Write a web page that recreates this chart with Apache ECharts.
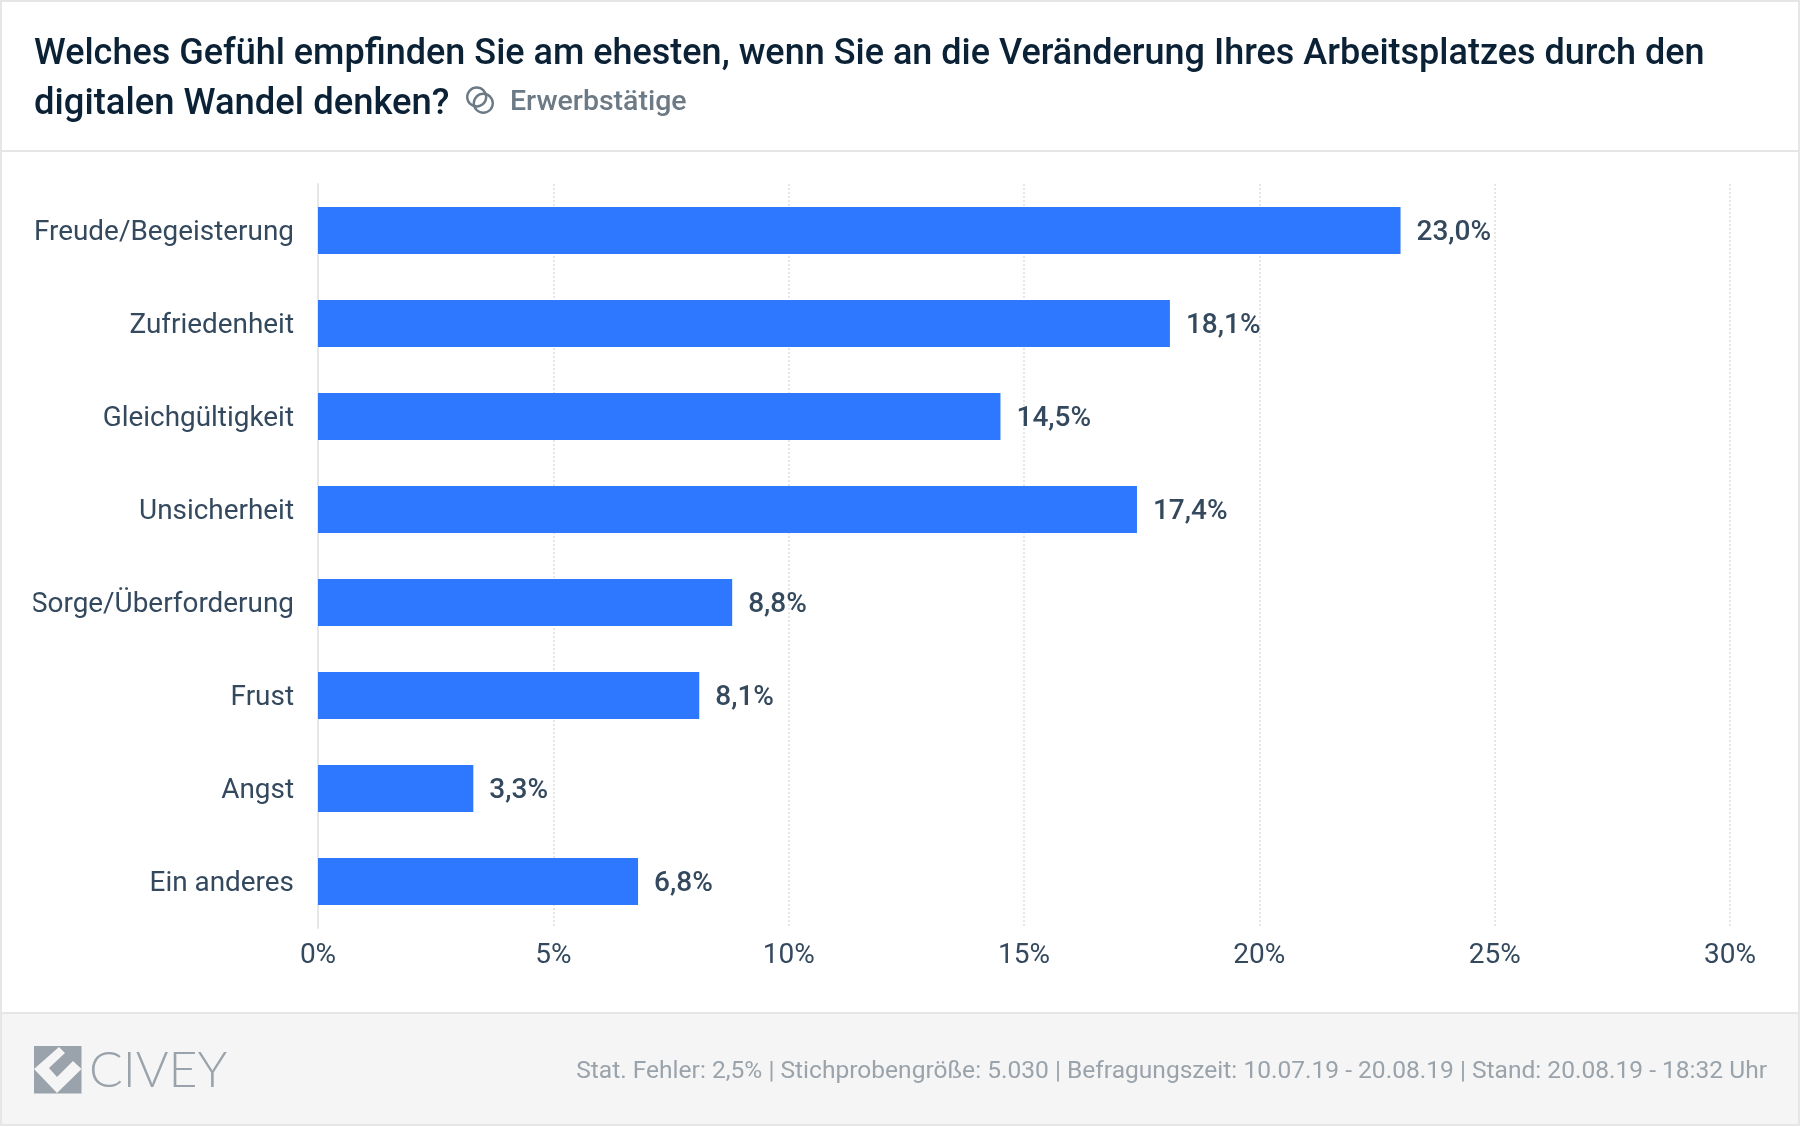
<!DOCTYPE html>
<html>
<head>
<meta charset="utf-8">
<title>Civey</title>
<script src="https://cdn.jsdelivr.net/npm/echarts@6/dist/echarts.min.js"></script>
<style>
  html, body { margin: 0; padding: 0; background: #fff; }
  #chart { width: 1800px; height: 1126px; }
</style>
</head>
<body>
<div id="chart"></div>
<script>
// Chart data
var categories = ['Freude/Begeisterung', 'Zufriedenheit', 'Gleichgültigkeit', 'Unsicherheit', 'Sorge/Überforderung', 'Frust', 'Angst', 'Ein anderes'];
var shares = [23.0, 18.1, 14.5, 17.4, 8.8, 8.1, 3.3, 6.8];
var xTicks = [0, 5, 10, 15, 20, 25, 30];

var titleLines = ['Welches Gefühl empfinden Sie am ehesten, wenn Sie an die Veränderung Ihres Arbeitsplatzes durch den', 'digitalen Wandel denken?'];
var groupLabel = 'Erwerbstätige';
var footerNote = 'Stat. Fehler: 2,5% | Stichprobengröße: 5.030 | Befragungszeit: 10.07.19 - 20.08.19 | Stand: 20.08.19 - 18:32 Uhr';

var fontName = 'Roboto';
var lineColor = '#e6e6e6';

var myChart = echarts.init(document.getElementById('chart'));

var chartOptions = {
  animation: false,
  backgroundColor: '#fff',
  textStyle: { fontFamily: fontName },
  title: [
    {
      text: titleLines[0],
      left: 29,
      top: 32,
      textStyle: { fontFamily: fontName, fontSize: 36, fontWeight: 500, color: '#0b2135' }
    },
    {
      text: titleLines[1],
      left: 29,
      top: 82,
      textStyle: { fontFamily: fontName, fontSize: 36.4, fontWeight: 500, color: '#0b2135' }
    },
    {
      text: groupLabel,
      left: 505,
      top: 83,
      textStyle: { fontFamily: fontName, fontSize: 28.5, fontWeight: 500, color: '#6c7a85' }
    },
    {
      text: footerNote,
      right: 28,
      top: 1054,
      textStyle: { fontFamily: fontName, fontSize: 24.55, fontWeight: 400, color: '#9aa3ab' }
    }
  ],
  grid: { left: 318, right: 70, top: 184, bottom: 198 },
  xAxis: {
    type: 'value',
    min: 0,
    max: 30,
    interval: 5,
    axisLine: { show: false },
    axisTick: { show: false },
    axisLabel: {
      margin: 14,
      fontSize: 28,
      color: '#34495e',
      fontFamily: fontName,
      formatter: function(v) { return xTicks.indexOf(v) >= 0 ? v + '%' : ''; }
    },
    splitLine: { show: true, lineStyle: { color: lineColor, width: 2, type: 'dotted' } }
  },
  yAxis: {
    type: 'category',
    inverse: true,
    data: categories,
    axisLine: { show: true, lineStyle: { color: lineColor, width: 2 } },
    axisTick: { show: false },
    // small line box anchored at the top pushes the text a bit below the bar centre
    axisLabel: { interval: 0, margin: 24, fontSize: 27.9, color: '#34495e', fontFamily: fontName, verticalAlign: 'top', lineHeight: 5 }
  },
  series: [{
    type: 'bar',
    data: shares,
    barWidth: 47,
    itemStyle: { color: '#2e77ff' },
    label: {
      show: true,
      position: 'right',
      distance: 16,
      offset: [0, 2.5],
      fontSize: 28,
      fontWeight: 500,
      fontFamily: fontName,
      color: '#34495e',
      formatter: function(p) { return p.value.toFixed(1).replace('.', ',') + '%'; }
    }
  }],
  graphic: [
    // page frame and footer band
    { type: 'rect', z: 1, shape: { x: 0, y: 0, width: 1800, height: 2 }, style: { fill: lineColor } },
    { type: 'rect', z: 1, shape: { x: 0, y: 150, width: 1800, height: 2 }, style: { fill: lineColor } },
    { type: 'rect', z: 1, shape: { x: 0, y: 1012, width: 1800, height: 114 }, style: { fill: '#f5f5f5' } },
    { type: 'rect', z: 1, shape: { x: 0, y: 1012, width: 1800, height: 2 }, style: { fill: lineColor } },
    { type: 'rect', z: 1, shape: { x: 0, y: 1124, width: 1800, height: 2 }, style: { fill: lineColor } },
    { type: 'rect', z: 1, shape: { x: 0, y: 0, width: 2, height: 1126 }, style: { fill: lineColor } },
    { type: 'rect', z: 1, shape: { x: 1798, y: 0, width: 2, height: 1126 }, style: { fill: lineColor } },
    // the long label runs past the left padding and gets cut off
    { type: 'rect', z: 100, shape: { x: 2, y: 585, width: 31.5, height: 45 }, style: { fill: '#fff' } },
    // population icon
    { type: 'circle', z: 10, shape: { cx: 476.7, cy: 97, r: 9.5 }, style: { fill: 'none', stroke: '#6c7a85', lineWidth: 2.4 } },
    { type: 'circle', z: 10, shape: { cx: 483.3, cy: 103.3, r: 9.5 }, style: { fill: 'none', stroke: '#6c7a85', lineWidth: 2.4 } },
    // logo
    { type: 'rect', z: 10, shape: { x: 34, y: 1046, width: 47.5, height: 47.5 }, style: { fill: '#9aa3ab' } },
    {
      type: 'polygon',
      z: 11,
      shape: { points: [[59, 1047], [65, 1053], [49, 1068], [57, 1077], [73, 1061], [81.5, 1069], [57, 1093], [34, 1069]] },
      style: { fill: '#f5f5f5' }
    },
    {
      type: 'text',
      z: 11,
      x: 89,
      y: 1071,
      style: { text: 'CIVEY', fontFamily: 'Lato', fontWeight: 300, fontSize: 50, fill: '#9aa3ab', verticalAlign: 'middle' }
    }
  ]
};

myChart.setOption(chartOptions);
</script>
</body>
</html>
